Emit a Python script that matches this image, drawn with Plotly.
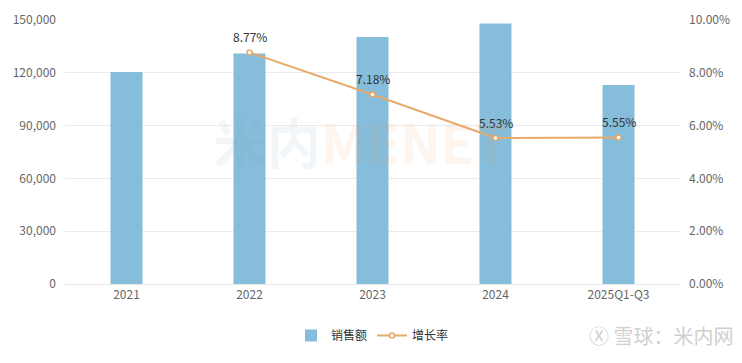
import plotly.graph_objects as go

categories = ["2021", "2022", "2023", "2024", "2025Q1-Q3"]
sales = [120400, 130900, 140300, 148000, 113000]
growth = [None, 0.0877, 0.0718, 0.0553, 0.0555]
growth_labels = ["", "8.77%", "7.18%", "5.53%", "5.55%"]

font_family = "Noto Sans CJK SC, Noto Sans, sans-serif"

fig = go.Figure()
fig.add_trace(go.Bar(
    x=categories, y=sales, name="销售额",
    marker=dict(color="#85BDDB", line=dict(width=0)),
    width=0.26, yaxis="y",
))
fig.add_trace(go.Scatter(
    x=categories, y=growth, name="增长率", yaxis="y2",
    mode="lines+markers",
    line=dict(color="#E8AA6A", width=2),
    marker=dict(symbol="circle", size=5, color="white",
                line=dict(color="#E8AA6A", width=1.5)),
    connectgaps=False,
))
for i, (g, lab) in enumerate(zip(growth, growth_labels)):
    if g is None:
        continue
    fig.add_annotation(
        x=i, y=g, xref="x", yref="y2", text=lab, showarrow=False,
        yanchor="bottom", yshift=5,
        font=dict(size=12, color="#333333", family=font_family),
    )

fig.update_layout(
    width=742, height=363,
    margin=dict(l=65, r=62, t=20, b=79, autoexpand=False),
    paper_bgcolor="white", plot_bgcolor="white",
    font=dict(family=font_family, size=12, color="#666666"),
    xaxis=dict(
        type="category", range=[-0.5, 4.5],
        showgrid=False, showline=True, linecolor="#E6E6E6", linewidth=1,
        ticks="", tickfont=dict(size=12, color="#666666"),
    ),
    yaxis=dict(
        range=[0, 150000], dtick=30000, tickformat=",",
        showgrid=True, gridcolor="#EBEBEB", gridwidth=1,
        zeroline=False, showline=False, ticks="", ticklabelstandoff=8,
        tickfont=dict(size=12, color="#666666"),
    ),
    yaxis2=dict(
        range=[0, 0.10], dtick=0.02, tickformat=".2%",
        overlaying="y", side="right", showgrid=False,
        zeroline=False, showline=False, ticks="", ticklabelstandoff=8,
        tickfont=dict(size=12, color="#666666"),
    ),
    legend=dict(
        orientation="h", x=0.5, xanchor="center", y=-0.195, yanchor="middle",
        font=dict(size=12, color="#333333"),
    ),
    showlegend=True,
)

fig.add_annotation(
    x=0.48, y=0.545, xref="paper", yref="paper",
    text="<b><span style='color:rgba(140,170,190,0.10)'>米内</span>"
         "<span style='color:rgba(240,160,90,0.10)'>MENET</span></b>",
    showarrow=False, font=dict(size=54, family=font_family),
)
fig.add_annotation(
    x=1.09, y=-0.195, xref="paper", yref="paper", xanchor="right", yanchor="middle",
    text="Ⓧ 雪球：米内网", showarrow=False,
    font=dict(size=20, color="#D0D0D0", family=font_family),
)

fig.write_html("out.html", config={"displayModeBar": False},
               post_script="document.body.style.margin='0';")
